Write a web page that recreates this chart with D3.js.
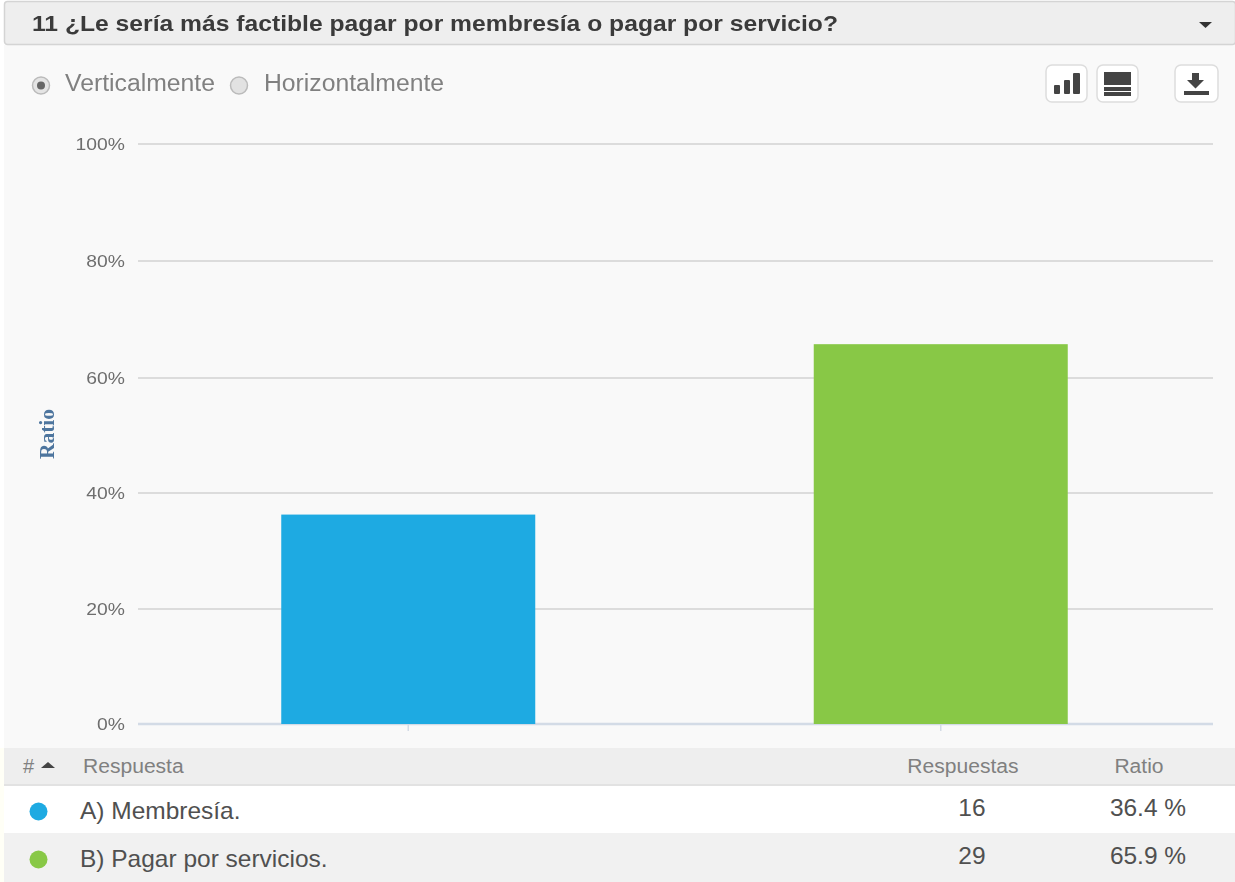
<!DOCTYPE html>
<html><head><meta charset="utf-8">
<script src="https://cdn.jsdelivr.net/npm/d3@7/dist/d3.min.js"></script>
<style>html,body{margin:0;padding:0;background:#fff;overflow:hidden}svg{display:block;filter:blur(0.45px)}</style>
</head><body><svg id="c" width="1235" height="882"></svg>
<script>
const categories = ["A) Membresía.", "B) Pagar por servicios."];
const ratios = [36.4, 65.9];
const counts = [16, 29];
const ratioLabels = ["36.4 %", "65.9 %"];
const colors = ["#1eaae2", "#88c846"];
const yTicks = [0, 20, 40, 60, 80, 100];
const title = "11 ¿Le sería más factible pagar por membresía o pagar por servicio?";
const radioLabels = ["Verticalmente", "Horizontalmente"];
const tableHead = ["Respuesta", "Respuestas", "Ratio"];

const F = "Arial, 'Liberation Sans', sans-serif";
const svg = d3.select("#c");
const rect = (x,y,w,h,f,extra={}) => { const r = svg.append("rect").attr("x",x).attr("y",y).attr("width",w).attr("height",h).attr("fill",f); Object.entries(extra).forEach(([k,v])=>r.attr(k,v)); return r; };
const text = (s,x,y,size,fill,extra={}) => { const t = svg.append("text").text(s).attr("x",x).attr("y",y).attr("font-size",size).attr("fill",fill).attr("font-family",F); Object.entries(extra).forEach(([k,v])=>t.attr(k,v)); return t; };
// widen a text horizontally, as the stretched screenshot does
const stretch = (t,k) => t.attr("textLength",t.node().getComputedTextLength()*k).attr("lengthAdjust","spacingAndGlyphs");

// panel
rect(4,45,1231,837,"#f9f9f9");
rect(4.5,1.5,1231,43,"#eeeeee",{stroke:"#d4d4d4","stroke-width":1.5,rx:3});
text(title,32,31,22.5,"#3b3b3b",{"font-weight":"bold"}).attr("textLength",806).attr("lengthAdjust","spacingAndGlyphs");
svg.append("path").attr("d","M1199 22h13l-6.5 6z").attr("fill","#333");

// radios
svg.append("circle").attr("cx",41).attr("cy",85.5).attr("r",8.5).attr("fill","#e4e4e4").attr("stroke","#bbb").attr("stroke-width",1.5);
svg.append("circle").attr("cx",41).attr("cy",85.5).attr("r",4).attr("fill","#666");
svg.append("circle").attr("cx",239).attr("cy",85.5).attr("r",8.5).attr("fill","#e2e2e2").attr("stroke","#bbb").attr("stroke-width",1.5);
text(radioLabels[0],65,91,23,"#808080").attr("textLength",150).attr("lengthAdjust","spacingAndGlyphs");
text(radioLabels[1],264,91,23,"#808080").attr("textLength",180).attr("lengthAdjust","spacingAndGlyphs");

// toolbar buttons
[[1046,41],[1097,41],[1175,43]].forEach(([x,w])=>rect(x,65,w,37,"#fff",{stroke:"#ddd","stroke-width":1.5,rx:6}));
const ic = "#444";
rect(1054,85,6,9,ic,{rx:1}); rect(1064,80,6,14,ic,{rx:1}); rect(1073,73,7,21,ic,{rx:1});
rect(1104,72,27,13,ic); rect(1104,87,27,4,ic); rect(1104,92,27,4,ic);
svg.append("path").attr("d","M1192 73h7v7h5l-8.5 8.5l-8.5-8.5h5z").attr("fill",ic);
rect(1184,91,25,4,ic);

// chart: the gridlines of the screenshot are not quite evenly spaced
const y = d3.scaleLinear().domain(yTicks).range([724,609,493,378,261,144]);
const x = d3.scaleBand().domain(categories).range([142,1207]);
const grid = svg.append("g");
yTicks.forEach(t=>{
  grid.append("line").attr("x1",138).attr("x2",1213).attr("y1",y(t)).attr("y2",y(t))
    .attr("stroke",t===0?"#d3dbe6":"#d2d2d2").attr("stroke-width",t===0?2.5:1.5);
  stretch(text(t+"%",125,y(t)+6,16.5,"#6e6e6e",{"text-anchor":"end"}),1.17);
});
categories.forEach(c=>{
  const cx=x(c)+x.bandwidth()/2;
  grid.append("line").attr("x1",cx).attr("x2",cx).attr("y1",724).attr("y2",731).attr("stroke","#d3dbe6").attr("stroke-width",1.5);
});
const barW=254;
svg.append("g").selectAll("rect").data(categories).join("rect")
  .attr("x",c=>x(c)+x.bandwidth()/2-barW/2).attr("width",barW)
  .attr("y",(c,i)=>y(ratios[i])+0.7).attr("height",(c,i)=>y(0)-y(ratios[i])-0.7)
  .attr("fill",(c,i)=>colors[i]);
text("Ratio",54,434,20,"#4d759e",{"text-anchor":"middle","font-weight":"bold","transform":"rotate(-90 54 434)"})
  .attr("font-family","'Liberation Serif',serif").attr("textLength",50).attr("lengthAdjust","spacingAndGlyphs");

// table
rect(4,748,1231,37,"#eeeeee");
rect(4,784,1231,2,"#e2e2e2");
rect(4,786,1231,47,"#ffffff");
rect(4,833,1231,49,"#f1f1f1");
rect(0,748,4,134,"#fffff6");
text("#",23,773,20,"#808080");
svg.append("path").attr("d","M41 768l7-6l7 6z").attr("fill","#444");
stretch(text(tableHead[0],83,773,19.5,"#808080"),1.08);
stretch(text(tableHead[1],963,773,19.5,"#808080",{"text-anchor":"middle"}),1.08);
stretch(text(tableHead[2],1139,773,19.5,"#808080",{"text-anchor":"middle"}),1.08);
const rowY=[819,867], numY=[816,864];
categories.forEach((c,i)=>{
  svg.append("circle").attr("cx",38.5).attr("cy",rowY[i]-7.5).attr("r",9).attr("fill",colors[i]);
  stretch(text(c,80,rowY[i],24,"#505050"),1.02);
  stretch(text(counts[i],972,numY[i],24,"#505050",{"text-anchor":"middle"}),1.02);
  stretch(text(ratioLabels[i],1148,numY[i],24,"#505050",{"text-anchor":"middle"}),1.02);
});
</script></body></html>
